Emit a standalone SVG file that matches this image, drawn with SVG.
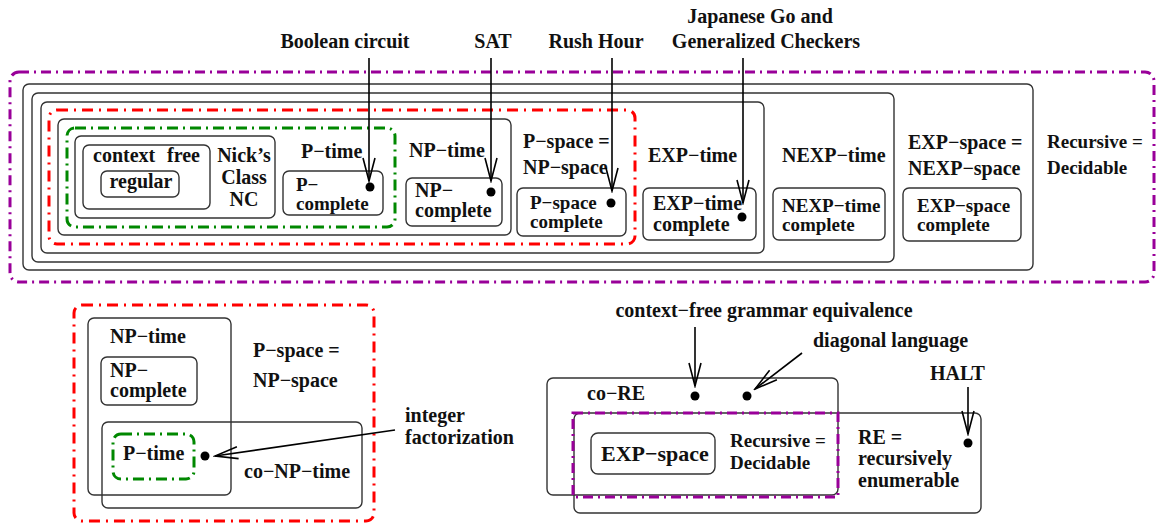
<svg xmlns="http://www.w3.org/2000/svg" width="1159" height="524" viewBox="0 0 1159 524">
  <defs>
    <style>
      text { font-family: "Liberation Serif", "Times New Roman", serif; font-weight: bold; font-size: 20px; fill: #111; }
      .mid { text-anchor: middle; }
      .box { fill: none; stroke: #333; stroke-width: 1.4; }
      .purple { fill: none; stroke: #990099; stroke-width: 3; stroke-dasharray: 10 5 2 5; }
      .red { fill: none; stroke: #ff0000; stroke-width: 3; stroke-dasharray: 11 6 2 6; }
      .green { fill: none; stroke: #008800; stroke-width: 3; stroke-dasharray: 11 5 2 5; }
      .arrow { fill: none; stroke: #000; stroke-width: 1.6; marker-end: url(#vhead); }
      .dot { fill: #000; }
      .tight { font-size: 19px; }
    </style>
    <marker id="vhead" markerUnits="userSpaceOnUse" viewBox="0 0 26 14" markerWidth="26" markerHeight="14" refX="24" refY="7" orient="auto">
      <path d="M1,1 L24,7 L1,13" fill="none" stroke="#000" stroke-width="1.6"/>
    </marker>
  </defs>

  <!-- ===== Top: chain of complexity classes ===== -->
  <g id="recursive">
    <rect class="purple" x="10" y="72" width="1144" height="210" rx="9"/>
    <text x="1047" y="148" style="font-size:19px">Recursive =</text>
    <text x="1047" y="174" style="font-size:19px">Decidable</text>
  </g>
  <g id="expspace">
    <rect class="box" x="23" y="84" width="1010" height="186" rx="6"/>
    <text x="908" y="149">EXP−space =</text>
    <text x="908" y="175">NEXP−space</text>
  </g>
  <g id="expspace-complete">
    <rect class="box" x="903" y="188" width="118" height="53" rx="6"/>
    <text class="tight" x="917" y="212">EXP−space</text>
    <text class="tight" x="917" y="231">complete</text>
  </g>
  <g id="nexptime">
    <rect class="box" x="32" y="93" width="862" height="169" rx="6"/>
    <text x="782" y="162">NEXP−time</text>
  </g>
  <g id="nexptime-complete">
    <rect class="box" x="773" y="188" width="112" height="52" rx="6"/>
    <text class="tight" x="782" y="212">NEXP−time</text>
    <text class="tight" x="782" y="231">complete</text>
  </g>
  <g id="exptime">
    <rect class="box" x="41" y="102" width="723" height="151" rx="6"/>
    <text x="648" y="162">EXP−time</text>
  </g>
  <g id="exptime-complete">
    <rect class="box" x="643" y="188" width="113" height="52" rx="6"/>
    <text x="653" y="210">EXP−time</text>
    <text x="653" y="231">complete</text>
    <circle class="dot" cx="742" cy="217" r="4.5"/>
  </g>
  <g id="pspace">
    <rect class="red" x="49" y="110" width="586" height="134" rx="8"/>
    <text x="523" y="148">P−space =</text>
    <text x="523" y="174">NP−space</text>
  </g>
  <g id="pspace-complete">
    <rect class="box" x="517" y="188" width="109" height="48" rx="6"/>
    <text class="tight" x="530" y="209">P−space</text>
    <text class="tight" x="530" y="228">complete</text>
    <circle class="dot" cx="611" cy="203" r="4.5"/>
  </g>
  <g id="nptime">
    <rect class="box" x="58" y="119" width="453" height="116" rx="6"/>
    <text x="409" y="157">NP−time</text>
  </g>
  <g id="np-complete">
    <rect class="box" x="406" y="178" width="96" height="48" rx="6"/>
    <text x="415" y="197">NP−</text>
    <text x="415" y="217">complete</text>
    <circle class="dot" cx="491" cy="192" r="4.5"/>
  </g>
  <g id="ptime">
    <rect class="green" x="67" y="128" width="328" height="99" rx="8"/>
    <text x="301" y="158">P−time</text>
  </g>
  <g id="p-complete">
    <rect class="box" x="283" y="171" width="100" height="44" rx="6"/>
    <text class="tight" x="296" y="191">P−</text>
    <text class="tight" x="296" y="210">complete</text>
    <circle class="dot" cx="370" cy="187" r="4.5"/>
  </g>
  <g id="nc">
    <rect class="box" x="75" y="136" width="200" height="82" rx="6"/>
    <text class="mid" x="244" y="162">Nick’s</text>
    <text class="mid" x="244" y="184">Class</text>
    <text class="mid" x="244" y="206">NC</text>
  </g>
  <g id="context-free">
    <rect class="box" x="83" y="145" width="127" height="64" rx="6"/>
    <text x="93" y="162">context</text>
    <text x="167" y="162">free</text>
  </g>
  <g id="regular">
    <rect class="box" x="101" y="171" width="78" height="26" rx="6"/>
    <text class="mid" x="141" y="188">regular</text>
  </g>

  <!-- problem labels above the chain -->
  <g id="labels-top">
    <text class="mid" x="345" y="48">Boolean circuit</text>
    <text class="mid" x="493" y="48">SAT</text>
    <text class="mid" x="596" y="48">Rush Hour</text>
    <text class="mid" x="760" y="23">Japanese Go and</text>
    <text class="mid" x="766" y="48">Generalized Checkers</text>
  </g>

  <!-- ===== Bottom left: NP / co-NP inside P-space ===== -->
  <g id="pspace-2">
    <rect class="red" x="74" y="305" width="300" height="216" rx="8"/>
    <text x="253" y="357">P−space =</text>
    <text x="253" y="387">NP−space</text>
  </g>
  <g id="nptime-2">
    <rect class="box" x="88" y="318" width="143" height="177" rx="6"/>
    <text x="110" y="343">NP−time</text>
  </g>
  <g id="np-complete-2">
    <rect class="box" x="101" y="357" width="96" height="48" rx="6"/>
    <text x="110" y="377">NP−</text>
    <text x="110" y="397">complete</text>
  </g>
  <g id="conptime">
    <rect class="box" x="102" y="422" width="260" height="86" rx="6"/>
    <text x="244" y="478">co−NP−time</text>
    <circle class="dot" cx="205" cy="456" r="4.5"/>
  </g>
  <g id="ptime-2">
    <rect class="green" x="113" y="434" width="81" height="45" rx="8"/>
    <text x="123" y="460">P−time</text>
  </g>
  <g id="factorization-label">
    <text x="405" y="422">integer</text>
    <text x="405" y="444">factorization</text>
  </g>

  <!-- ===== Bottom right: RE / co-RE ===== -->
  <g id="co-re">
    <rect class="box" x="547" y="378" width="291" height="117" rx="6"/>
    <text x="587" y="400">co−RE</text>
    <circle class="dot" cx="695" cy="396" r="4.5"/>
    <circle class="dot" cx="747" cy="396" r="4.5"/>
  </g>
  <g id="re">
    <rect class="box" x="574" y="413" width="407" height="100" rx="6"/>
    <text x="858" y="444">RE =</text>
    <text x="858" y="465">recursively</text>
    <text x="858" y="487">enumerable</text>
    <circle class="dot" cx="968" cy="443" r="4.5"/>
  </g>
  <g id="recursive-2">
    <rect class="purple" x="573" y="413" width="265" height="84"/>
    <text x="730" y="447" style="font-size:19px">Recursive =</text>
    <text x="730" y="469" style="font-size:19px">Decidable</text>
  </g>
  <g id="expspace-2">
    <rect class="box" x="591" y="433" width="124" height="41" rx="7"/>
    <text x="601" y="461" style="font-size:22px">EXP−space</text>
  </g>
  <g id="labels-bottom">
    <text class="mid" x="764" y="317">context−free grammar equivalence</text>
    <text x="813" y="347">diagonal language</text>
    <text x="930" y="380">HALT</text>
  </g>

  <!-- connectors: problem label to its class -->
  <g id="connectors">
    <line class="arrow" x1="369" y1="58" x2="369" y2="181"/>
    <line class="arrow" x1="491" y1="58" x2="491" y2="181"/>
    <line class="arrow" x1="612" y1="58" x2="612" y2="191"/>
    <line class="arrow" x1="743" y1="58" x2="743" y2="203"/>
    <line class="arrow" x1="395" y1="430" x2="215" y2="456"/>
    <line class="arrow" x1="695" y1="327" x2="695" y2="386"/>
    <line class="arrow" x1="802" y1="353" x2="755" y2="389"/>
    <line class="arrow" x1="968" y1="387" x2="968" y2="434"/>
  </g>
</svg>
